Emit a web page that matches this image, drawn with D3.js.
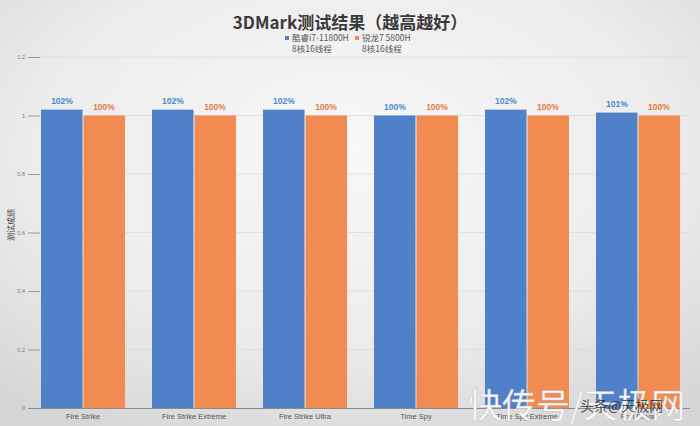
<!DOCTYPE html>
<html><head><meta charset="utf-8">
<script src="https://cdn.jsdelivr.net/npm/d3@7/dist/d3.min.js"></script>
<style>html,body{margin:0;padding:0;background:#e6e6e6;}svg{display:block;}</style>
</head><body>
<svg id="c" width="700" height="426"></svg>
<script>
const categories = ["Fire Strike","Fire Strike Extreme","Fire Strike Ultra","Time Spy","Time Spy Extreme","Port Royal"];
const seriesNames = ["酷睿i7-11800H","锐龙7 5800H"];
const seriesSub = ["8核16线程","8核16线程"];
const intelValues = [1.02,1.02,1.02,1.00,1.02,1.01];
const amdValues = [1.00,1.00,1.00,1.00,1.00,1.00];
const yTicks = [0,0.2,0.4,0.6,0.8,1,1.2];
const yTickLabels = ["0","0.2","0.4","0.6","0.8","1","1.2"];
const colors = ["#4f80c8","#f28b51"];
const labelColors = ["#4a8ac9","#e8793a"];

const svg = d3.select("#c");
const W = 700, H = 426;
const defs = svg.append("defs");
const rg = defs.append("radialGradient").attr("id","bg").attr("cx","50%").attr("cy","35%").attr("r","75%");
rg.append("stop").attr("offset","0%").attr("stop-color","#f8f8f8");
rg.append("stop").attr("offset","60%").attr("stop-color","#ececec");
rg.append("stop").attr("offset","100%").attr("stop-color","#d6d6d6");
svg.append("rect").attr("width",W).attr("height",H).attr("fill","url(#bg)");

const y = d3.scaleLinear().domain([0,1.2]).range([408,57]);
const x0 = d3.scaleBand().domain(categories).range([41,680]).paddingInner(0.243).paddingOuter(0);
const x1 = d3.scaleBand().domain([0,1]).range([0,x0.bandwidth()]).padding(0);

// gridlines
svg.append("g").selectAll("line").data(yTicks.filter(d=>d>0)).join("line")
  .attr("x1",41).attr("x2",690).attr("y1",d=>y(d)).attr("y2",d=>y(d))
  .attr("stroke","#dadada").attr("stroke-width",0.8);

// y axis
const yAxis = d3.axisLeft(y).tickValues(yTicks).tickFormat((d,i)=>yTickLabels[i]).tickSize(12).tickPadding(3);
const ya = svg.append("g").attr("transform","translate(40,0)").call(yAxis);
ya.select(".domain").remove();
ya.selectAll(".tick line").attr("stroke","#9a9a9a");
ya.selectAll("text").attr("font-family","Liberation Sans, Arial").attr("font-size",5.5).attr("fill","#777");

// bars
const groups = svg.append("g").selectAll("g").data(categories).join("g")
  .attr("transform",d=>`translate(${x0(d)},0)`);
const vals = [intelValues, amdValues];
groups.each(function(c,i){
  const g = d3.select(this);
  [0,1].forEach(s=>{
    const v = vals[s][i];
    g.append("rect").attr("x",x1(s)+(s===1?0.5:0)).attr("width",x1.bandwidth()-0.5)
      .attr("y",y(v)).attr("height",y(0)-y(v)).attr("fill",colors[s]);
    g.append("text").attr("x",x1(s)+x1.bandwidth()/2).attr("y",y(v)-6)
      .attr("text-anchor","middle").attr("font-family","Liberation Sans, Arial").attr("font-weight","bold")
      .attr("font-size",8.5).attr("fill",labelColors[s]).text(Math.round(v*100)+"%");
  });
});

// x axis
const xAxis = d3.axisBottom(x0).tickSize(0).tickPadding(6);
const xa = svg.append("g").attr("transform","translate(0,408)").call(xAxis);
xa.select(".domain").remove();
xa.selectAll("text").attr("font-family","Liberation Sans, Arial").attr("font-size",7.5).attr("fill","#555");
svg.append("line").attr("x1",28).attr("x2",690).attr("y1",408.5).attr("y2",408.5).attr("stroke","#8a8a8a").attr("stroke-width",1);

// title
svg.append("text").attr("x",350).attr("y",29).attr("text-anchor","middle")
  .attr("font-family","Noto Sans CJK SC, sans-serif").attr("font-weight","bold").attr("font-size",17).attr("fill","#3a3a3a")
  .text("3DMark测试结果（越高越好）");

// legend
const legX = [285,355];
seriesNames.forEach((n,i)=>{
  svg.append("rect").attr("x",legX[i]).attr("y",36).attr("width",4).attr("height",4).attr("fill",colors[i]);
  svg.append("text").attr("x",legX[i]+7).attr("y",41).attr("font-family","Noto Sans CJK SC, sans-serif")
    .attr("font-size",8.5).attr("fill","#555").text(n);
  svg.append("text").attr("x",legX[i]+7).attr("y",52).attr("font-family","Noto Sans CJK SC, sans-serif")
    .attr("font-size",8.5).attr("fill","#555").text(seriesSub[i]);
});

// y title
svg.append("text").attr("transform","translate(14,225) rotate(-90)").attr("text-anchor","middle")
  .attr("font-family","Noto Sans CJK SC, sans-serif").attr("font-size",8).attr("fill","#444").text("测试成绩");

// watermark
svg.append("text").attr("x",468).attr("y",418).attr("font-family","Noto Sans CJK SC, sans-serif")
  .attr("font-size",34).attr("fill","#fff").attr("stroke","#bbb").attr("stroke-width",0.4).attr("opacity",0.95)
  .text("快传号/天极网");
svg.append("text").attr("x",580).attr("y",411).attr("font-family","Noto Sans CJK SC, sans-serif")
  .attr("font-size",14).attr("fill","#222").attr("opacity",0.75).text("头条@天极网");
</script>
</body></html>
